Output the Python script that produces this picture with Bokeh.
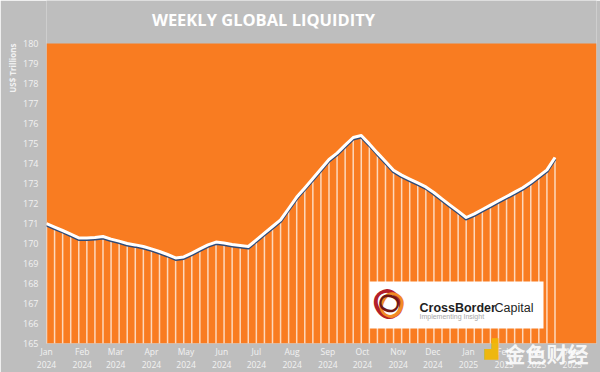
import math
import pandas as pd
from bokeh.plotting import figure
from bokeh.models import Label, BoxAnnotation, FixedTicker, Range1d, Title
from bokeh.embed import file_html
from bokeh.resources import INLINE

# ---- data -------------------------------------------------------------
first_week = "2024-01-01"
liquidity = [
    171.00, 170.82, 170.65, 170.47, 170.28, 170.28, 170.30, 170.35,
    170.22, 170.12, 170.00, 169.93, 169.85, 169.73, 169.60, 169.45,
    169.28, 169.33, 169.52, 169.73, 169.93, 170.07, 170.02, 169.95,
    169.90, 169.85, 170.18, 170.52, 170.85, 171.18, 171.75, 172.32,
    172.78, 173.25, 173.72, 174.20, 174.52, 174.92, 175.30, 175.40,
    174.98, 174.53, 174.10, 173.66, 173.42, 173.22, 173.03, 172.83,
    172.55, 172.23, 171.92, 171.62, 171.30, 171.48, 171.70, 171.92,
    172.14, 172.35, 172.57, 172.79, 173.06, 173.37, 173.68, 174.30,
]
weeks = pd.date_range(first_week, periods=len(liquidity), freq="7D")

month_dates = ["2024-01-01", "2024-02-01", "2024-03-01", "2024-04-01",
               "2024-05-01", "2024-06-01", "2024-07-01", "2024-08-01",
               "2024-09-01", "2024-10-01", "2024-11-01", "2024-12-01",
               "2025-01-01", "2025-02-01", "2025-03-01", "2025-04-01"]
month_labels = ["Jan\n2024", "Feb\n2024", "Mar\n2024", "Apr\n2024",
                "May\n2024", "Jun\n2024", "Jul\n2024", "Aug\n2024",
                "Sep\n2024", "Oct\n2024", "Nov\n2024", "Dec\n2024",
                "Jan\n2025", "Feb\n2025", "Mar\n2025", "Apr\n2025"]
y_ticks = list(range(165, 181))
y_min, y_max = 165, 180

# ---- style ------------------------------------------------------------
GRAY = "#bebebe"
ORANGE = "#f97c21"
LIGHT = "#f2f2f2"
FONT = "Open Sans"

x_end = pd.Timestamp("2025-04-22")
p = figure(width=600, height=372, x_axis_type="datetime",
           x_range=Range1d(weeks[0], x_end), y_range=Range1d(y_min, 182.15),
           output_backend="svg", toolbar_location=None, title=None,
           min_border_left=46, min_border_right=4, min_border_top=0,
           min_border_bottom=29,
           background_fill_color=GRAY, border_fill_color=GRAY)
p.grid.visible = False
p.outline_line_color = None

# orange plotting area (165 .. 180)
p.add_layout(BoxAnnotation(bottom=y_min, top=y_max, fill_color=ORANGE,
                           fill_alpha=1, line_color=None, level="underlay"))

# title
p.add_layout(Label(x=217, y=324, x_units="screen", y_units="screen",
                   text="WEEKLY GLOBAL LIQUIDITY", text_align="center",
                   text_baseline="alphabetic", text_color="white",
                   text_font=FONT, text_font_style="bold",
                   text_font_size="16.5px"))

# y axis caption (left panel, near the top of the scale)
p.add_layout(Title(text="US$ Trillions", align="right", offset=43,
                   standoff=6, text_color=LIGHT, text_font=FONT,
                   text_font_style="bold", text_font_size="8px"), "left")

# vertical weekly bars
p.segment(x0=weeks, x1=weeks, y0=[y_min] * len(liquidity), y1=liquidity,
          line_color="white", line_alpha=0.7, line_width=1.5)
# shadow + white line
p.line(weeks, [v - 0.07 for v in liquidity], line_color="#2d4a78",
       line_width=3.2, line_join="round")
p.line(weeks, liquidity, line_color="white", line_width=3, line_join="round")

# axes
tick_ms = [int(pd.Timestamp(d).timestamp() * 1000) for d in month_dates]
p.xaxis.ticker = FixedTicker(ticks=tick_ms)
p.xaxis.major_label_overrides = dict(zip(tick_ms, month_labels))
p.yaxis.ticker = FixedTicker(ticks=y_ticks)
for ax in (p.xaxis[0], p.yaxis[0]):
    ax.axis_line_color = None
    ax.major_tick_line_color = None
    ax.minor_tick_line_color = None
    ax.major_tick_out = 0
    ax.major_tick_in = 0
    ax.minor_tick_out = 0
    ax.major_label_text_color = LIGHT
    ax.major_label_text_font = FONT
p.yaxis.major_label_text_font_size = "9px"
p.xaxis.major_label_text_font_size = "8.5px"
p.yaxis.major_label_standoff = 8
p.xaxis.major_label_standoff = 2

# logo box
p.add_layout(BoxAnnotation(left=323, right=497, bottom=15, top=62,
                           left_units="screen", right_units="screen",
                           bottom_units="screen", top_units="screen",
                           fill_color="white", fill_alpha=1,
                           line_color=None))
for txt, col, size, ang, dx, dy in [("O", "#b3202a", "40px", 0.6, 342, 39),
                                     ("O", "#f28a25", "34px", -0.5, 345, 38),
                                     ("O", "#6e1616", "26px", 1.3, 343, 40)]:
    p.add_layout(Label(x=dx, y=dy, x_units="screen", y_units="screen",
                       text=txt, text_color=col, text_font="DejaVu Sans",
                       text_font_size=size, angle=ang, text_align="center",
                       text_baseline="middle"))
p.add_layout(Label(x=373, y=36, x_units="screen", y_units="screen",
                   text="CrossBorder", text_color="#1e1e1e",
                   text_font="Liberation Sans", text_font_style="bold",
                   text_font_size="12.5px", text_baseline="alphabetic"))
p.add_layout(Label(x=448, y=36, x_units="screen", y_units="screen",
                   text="Capital", text_color="#1e1e1e",
                   text_font="Liberation Sans", text_font_size="12.5px",
                   text_baseline="alphabetic"))
p.add_layout(Label(x=373, y=27, x_units="screen", y_units="screen",
                   text="Implementing Insight", text_color="#a8a8a8",
                   text_font="Liberation Sans", text_font_size="7px",
                   text_baseline="alphabetic"))

# watermark (below panel)
p.add_layout(Title(text="金色财经", align="right", offset=8,
                   vertical_align="top", standoff=-70,
                   text_color="white", text_alpha=0.9,
                   text_font="Noto Sans CJK SC", text_font_size="21px"),
             "below")
p.add_layout(Title(text="▟", align="right", offset=98,
                   vertical_align="top", standoff=-70,
                   text_color="#f2b705", text_alpha=0.95,
                   text_font="DejaVu Sans", text_font_size="18px"),
             "below")

open("out.html", "w").write(file_html(p, INLINE))
